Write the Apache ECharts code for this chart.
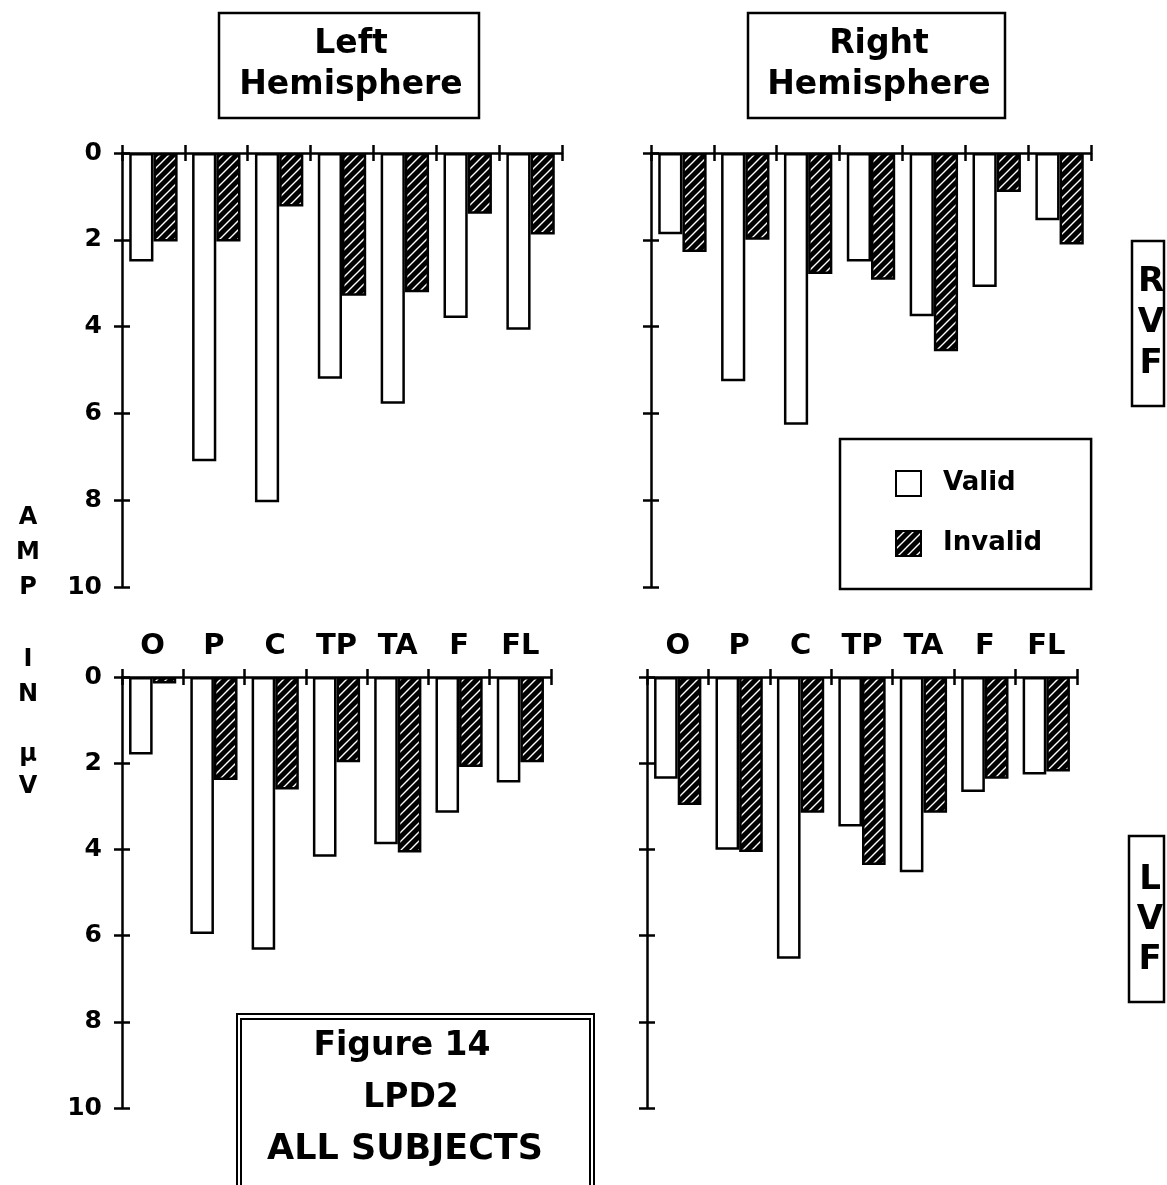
<!DOCTYPE html>
<html><head><meta charset="utf-8">
<script src="https://cdn.jsdelivr.net/npm/echarts/dist/echarts.min.js"></script>
<style>html,body{margin:0;padding:0;background:#fff}#c{width:1167px;height:1185px}</style>
</head><body><div id="c"></div>
<script>
// ---- data ----
const categories = ['O', 'P', 'C', 'TP', 'TA', 'F', 'FL'];
const yMin = 0, yMax = 10, yStep = 2;
const seriesNames = ['Valid', 'Invalid'];
// Left hemisphere, RVF (top-left)
const lhRvfValid   = [2.5, 7.1, 8.05, 5.2, 5.78, 3.8, 4.07];
const lhRvfInvalid = [2.04, 2.04, 1.23, 3.29, 3.21, 1.4, 1.88];
// Right hemisphere, RVF (top-right)
const rhRvfValid   = [1.87, 5.26, 6.26, 2.5, 3.76, 3.09, 1.55];
const rhRvfInvalid = [2.28, 2.0, 2.79, 2.92, 4.57, 0.9, 2.11];
// Left hemisphere, LVF (bottom-left)
const lhLvfValid   = [1.8, 5.96, 6.33, 4.17, 3.88, 3.15, 2.45];
const lhLvfInvalid = [0.15, 2.39, 2.61, 1.98, 4.07, 2.09, 1.98];
// Right hemisphere, LVF (bottom-right)
const rhLvfValid   = [2.36, 4.01, 6.54, 3.47, 4.53, 2.67, 2.26];
const rhLvfInvalid = [2.97, 4.06, 3.15, 4.36, 3.15, 2.36, 2.19];

const FONT = 'DejaVu Sans';

function hatch() {
  const s = 9;
  const c = document.createElement('canvas');
  c.width = s; c.height = s;
  const g = c.getContext('2d');
  g.fillStyle = '#000'; g.fillRect(0, 0, s, s);
  g.strokeStyle = '#fff'; g.lineWidth = 1.4;
  g.beginPath();
  g.moveTo(-1, s + 1); g.lineTo(s + 1, -1);
  g.moveTo(-1, 1); g.lineTo(1, -1);
  g.moveTo(s - 1, s + 1); g.lineTo(s + 1, s - 1);
  g.stroke();
  return c;
}
const hatchFill = { image: hatch(), repeat: 'repeat' };

const grids = [
  { left: 122, top: 153, width: 440, height: 434 },
  { left: 651, top: 153, width: 440, height: 434 },
  { left: 122, top: 677, width: 429, height: 431 },
  { left: 647, top: 677, width: 430, height: 431 }
];
const showYLabels = [true, false, true, false];
const showXLabels = [false, false, true, true];
const panelData = [
  [lhRvfValid, lhRvfInvalid],
  [rhRvfValid, rhRvfInvalid],
  [lhLvfValid, lhLvfInvalid],
  [rhLvfValid, rhLvfInvalid]
];

const lineStyle = { color: '#000', width: 2.5 };
const xAxis = [], yAxis = [], series = [];
grids.forEach((g, gi) => {
  xAxis.push({
    type: 'category', gridIndex: gi, data: categories, position: 'top',
    axisLine: { onZero: false, lineStyle },
    axisTick: { show: true, length: 8, lineStyle },
    axisLabel: { show: showXLabels[gi], margin: 16, fontFamily: FONT, fontWeight: 'bold', fontSize: 29, color: '#000' },
    splitLine: { show: false }
  });
  xAxis.push({
    type: 'category', gridIndex: gi, data: categories, position: 'top',
    axisLine: { show: false, onZero: false },
    axisTick: { show: true, inside: true, length: 8, lineStyle },
    axisLabel: { show: false }, splitLine: { show: false }
  });
  yAxis.push({
    type: 'value', gridIndex: gi, inverse: true, min: yMin, max: yMax, interval: yStep, position: 'left',
    axisLine: { show: true, onZero: false, lineStyle },
    axisTick: { show: true, length: 8, lineStyle },
    axisLabel: { show: showYLabels[gi], margin: 20, fontFamily: FONT, fontWeight: 'bold', fontSize: 25, color: '#000' },
    splitLine: { show: false }
  });
  yAxis.push({
    type: 'value', gridIndex: gi, inverse: true, min: yMin, max: yMax, interval: yStep, position: 'left',
    axisLine: { show: false, onZero: false },
    axisTick: { show: true, inside: true, length: 8, lineStyle },
    axisLabel: { show: false }, splitLine: { show: false }
  });
  series.push({
    name: seriesNames[0], type: 'bar', xAxisIndex: gi * 2, yAxisIndex: gi * 2,
    data: panelData[gi][0], barWidth: '38.5%', barGap: '0%',
    itemStyle: { color: '#fff', borderColor: '#000', borderWidth: 2.5 }, silent: true
  });
  series.push({
    name: seriesNames[1], type: 'bar', xAxisIndex: gi * 2, yAxisIndex: gi * 2,
    data: panelData[gi][1], barWidth: '38.5%', barGap: '0%',
    itemStyle: { color: hatchFill, borderColor: '#000', borderWidth: 2.5 }, silent: true
  });
});

const boxStyle = { fill: '#fff', stroke: '#000', lineWidth: 2.5 };
function txt(x, y, text, size, lh) {
  return { type: 'text', x, y, style: { text, fill: '#000', font: 'bold ' + size + 'px "' + FONT + '"', align: 'center', verticalAlign: 'middle', lineHeight: lh || size } };
}

const option = {
  animation: false,
  backgroundColor: '#fff',
  grid: grids.map(g => Object.assign({ containLabel: false }, g)),
  xAxis, yAxis, series,
  legend: {
    data: seriesNames, orient: 'vertical', left: 840, top: 439,
    padding: [31, 49, 32, 55], itemWidth: 25, itemHeight: 25, itemGap: 33, icon: 'rect',
    borderColor: '#000', borderWidth: 2.5, selectedMode: false,
    textStyle: { fontFamily: FONT, fontWeight: 'bold', fontSize: 26, color: '#000', padding: [0, 0, 0, 17] }
  },
  graphic: [
    { type: 'rect', shape: { x: 219, y: 13, width: 260, height: 105 }, style: boxStyle },
    txt(351, 65, 'Left\nHemisphere', 33, 41),
    { type: 'rect', shape: { x: 748, y: 13, width: 257, height: 105 }, style: boxStyle },
    txt(879, 65, 'Right\nHemisphere', 33, 41),
    { type: 'rect', shape: { x: 1132, y: 241, width: 32, height: 165 }, style: boxStyle },
    txt(1151, 323, 'R\nV\nF', 34, 41),
    { type: 'rect', shape: { x: 1129, y: 836, width: 35, height: 166 }, style: boxStyle },
    txt(1150, 920, 'L\nV\nF', 34, 40),
    txt(28, 553, 'A\nM\nP', 24, 35),
    txt(28, 677, 'I\nN', 24, 35),
    txt(28, 771, 'μ\nV', 24, 32),
    { type: 'rect', shape: { x: 237, y: 1014, width: 357, height: 200 }, style: { fill: '#fff', stroke: '#000', lineWidth: 2 } },
    { type: 'rect', shape: { x: 241, y: 1019, width: 349, height: 200 }, style: { fill: 'none', stroke: '#000', lineWidth: 2 } },
    txt(402, 1046, 'Figure 14', 33),
    txt(411, 1098, 'LPD2', 33),
    txt(405, 1150, 'ALL SUBJECTS', 35)
  ]
};
const chart = echarts.init(document.getElementById('c'), null, { renderer: 'canvas' });
chart.setOption(option);
</script></body></html>
